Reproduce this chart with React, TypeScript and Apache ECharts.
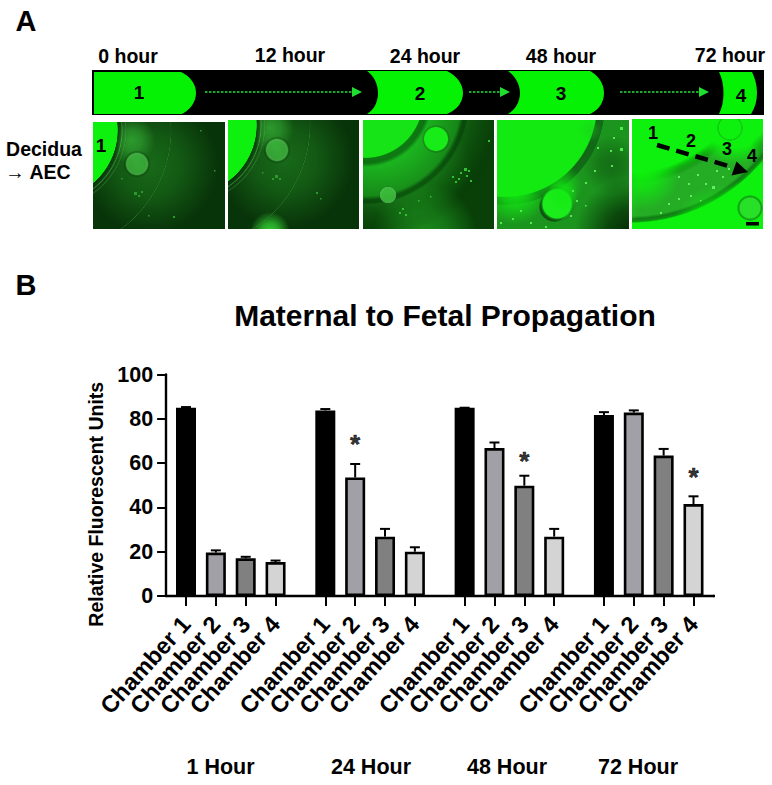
import React, { useEffect, useRef } from "react";
import * as echarts from "echarts";

// ---------- data ----------
const chamberLabels = ["Chamber 1", "Chamber 2", "Chamber 3", "Chamber 4"];
const hourLabels = ["1 Hour", "24 Hour", "48 Hour", "72 Hour"];
const hour1Means = [85, 19.6, 17, 15.3];
const hour24Means = [83.8, 53.5, 26.8, 20];
const hour48Means = [85, 66.8, 49.8, 26.8];
const hour72Means = [81.7, 82.8, 63.4, 41.5];
const hour1ErrorTops = [85.3, 20.6, 17.7, 16];
const hour24ErrorTops = [84.4, 59.6, 30.3, 22];
const hour48ErrorTops = [85, 69.3, 54.3, 30.3];
const hour72ErrorTops = [83, 83.8, 66.4, 45];
const groupMeans = [hour1Means, hour24Means, hour48Means, hour72Means];
const groupErrorTops = [hour1ErrorTops, hour24ErrorTops, hour48ErrorTops, hour72ErrorTops];
// significant bars: [group, chamber, height of the star]
const significance = [[1, 1, 68.5], [2, 2, 61], [3, 3, 53.5]];
const yTicks = { min: 0, max: 100, interval: 20 };
const timeLabels = ["0 hour", "12 hour", "24 hour", "48 hour", "72 hour"];

// ---------- slots of the category axis (bars are 6 slots apart, groups 10) ----------
const BAR_SLOTS = 6;
const GROUP_GAP = 10;
const LEAD = 4;
const TOTAL = 111;
const slotOf = (g: number, c: number) =>
  LEAD + g * (3 * BAR_SLOTS + GROUP_GAP) + c * BAR_SLOTS;
const slotNames: string[] = new Array(TOTAL).fill("");
groupMeans.forEach((vals, g) =>
  vals.forEach((_, c) => {
    slotNames[slotOf(g, c)] = chamberLabels[c];
  })
);

const FONT = '"Liberation Sans", Arial, sans-serif';
const fills = ["#000000", "#a0a0a6", "#808080", "#d4d4d4"];
const GREEN = "#0ef00e";

// ---------- panel A helpers ----------
const zone = (id: string, d: string) =>
  echarts.graphic.registerShape(id, echarts.graphic.extendPath(d, {}));
zone("zone1", "M94 72 L181 72 C190 76 196 84 196 93 C196 102 190 110 182 114 L94 114 Z");
zone("zone2", "M367 71 C374 76 378 84 378 93 C378 102 374 110 367 114 L447 114 C457 110 463 102 463 93 C463 84 457 76 447 71 Z");
zone("zone3", "M508 71 C515 76 520 84 520 93 C520 102 515 110 508 114 L590 114 C599 110 604 102 604 93 C604 84 599 76 590 71 Z");
zone("zone4", "M719 72 C722 78 723.5 85 723.5 93 C723.5 101 722 108 719 114 L751 114 C755 108 757 101 757 93 C757 85 755 78 752 72 Z");

type Stop = [number, string];
type Layer = { c: [number, number]; stops: Stop[] };
const rectEl = (x: number, y: number, w: number, h: number, fill: any) => ({
  type: "rect",
  silent: true,
  shape: { x, y, width: w, height: h },
  style: { fill },
});
const radial = (l: Layer) => {
  const rMax = l.stops[l.stops.length - 1][0];
  return new echarts.graphic.RadialGradient(
    l.c[0],
    l.c[1],
    rMax,
    l.stops.map(([r, color]) => ({ offset: r / rMax, color })),
    true
  );
};
const photo = (
  x: number,
  y: number,
  w: number,
  h: number,
  base: string,
  layers: Layer[],
  spots: number[][] = [],
  spotColor = "#4fe84f"
) => [
  rectEl(x, y, w, h, base),
  ...layers.map((l) => rectEl(x, y, w, h, radial(l))),
  ...spots.map(([sx, sy, s]) => rectEl(sx, sy, s, s, spotColor)),
];
const T = "rgba(0,0,0,0)";
const glow = (cx: number, cy: number, r: number, color: string, a: number): Layer => ({
  c: [cx, cy],
  stops: [
    [0, `rgba(${color},${a})`],
    [r * 0.45, `rgba(${color},${a * 0.7})`],
    [r, `rgba(${color},0)`],
  ],
});
const earlyDisc = (cx: number, cy: number): Layer => ({
  c: [cx, cy],
  stops: [
    [69.4, GREEN],
    [70, "rgba(6,50,8,0.7)"],
    [73, "rgba(6,50,8,0.35)"],
    [74.2, "rgba(110,220,110,0.4)"],
    [75.4, "rgba(0,0,0,0.05)"],
    [78, "rgba(90,200,90,0.28)"],
    [79, T],
    [122, T],
    [123, "rgba(70,190,70,0.4)"],
    [124, T],
  ],
});
const ball = (cx: number, cy: number, r: number, a = 0.7, light = "70,200,70"): Layer => ({
  c: [cx, cy],
  stops: [
    [0, `rgba(${light},${a})`],
    [r * 0.7, `rgba(${light},${a * 0.9})`],
    [r * 0.96, "rgba(90,205,90,0.6)"],
    [r * 1.1, "rgba(5,50,5,0.3)"],
    [r * 1.25, T],
  ],
});

const photos = [
  ...photo(93, 122, 132, 107, "#083409", [
    glow(150, 165, 68, "40,160,40", 0.5),
    glow(131, 140, 24, "70,220,70", 0.5),
    earlyDisc(48, 130),
    ball(137, 164, 11),
  ], [[134, 192, 3], [138, 195, 2], [141, 191, 2], [121, 178, 1.5], [200, 130, 1.5], [173, 216, 2], [214, 170, 1.5], [148, 215, 1.5]], "#2c9a2c"),
  ...photo(228, 120, 131, 109, "#083409", [
    glow(285, 160, 68, "40,160,40", 0.5),
    glow(270, 128, 24, "70,220,70", 0.5),
    glow(270, 232, 20, "60,235,60", 0.85),
    earlyDisc(187, 125),
    ball(277, 150, 11),
  ], [[275, 175, 3], [279, 178, 2], [272, 178, 2], [316, 192, 2], [320, 198, 1.5], [262, 172, 1.5]], "#2c9a2c"),
  ...photo(363, 120, 131, 109, "#084008", [
    glow(425, 235, 52, "40,190,40", 0.6),
    glow(410, 165, 60, "30,190,30", 0.35),
    {
      c: [365, 100],
      stops: [
        [57.4, "#16e416"],
        [58.5, "rgba(12,130,18,0.8)"],
        [63, "rgba(14,130,20,0.65)"],
        [67, "rgba(30,200,35,0.8)"],
        [96, "rgba(28,165,30,0.7)"],
        [100, "rgba(10,80,12,0.7)"],
        [103, "rgba(10,80,12,0.55)"],
        [105, "rgba(35,150,35,0.3)"],
        [125, "rgba(20,100,20,0.15)"],
        [140, T],
      ],
    },
    { c: [436, 139], stops: [[11.5, "#18ec18"], [12.5, "rgba(30,130,30,0.5)"], [14, T]] },
    { c: [388, 195], stops: [[6, "rgba(60,190,60,0.9)"], [8, "rgba(100,210,100,0.6)"], [9, T]] },
  ], [[460, 172, 2], [464, 168, 3], [466, 175, 2], [458, 178, 2], [468, 170, 2], [452, 176, 2], [455, 181, 2], [470, 180, 2], [402, 208, 2], [399, 212, 2], [405, 214, 2], [430, 196, 1.5], [418, 200, 1.5], [488, 140, 2]], "#33c033"),
  ...photo(497, 120, 132, 109, "#1c951e", [
    glow(632, 235, 58, "0,20,0", 0.85),
    glow(612, 165, 30, "10,60,10", 0.45),
    {
      c: [505, 105],
      stops: [
        [91.4, "#12ea12"],
        [92.5, "rgba(14,90,20,0.8)"],
        [99, "rgba(14,90,20,0.7)"],
        [100, T],
      ],
    },
    glow(515, 190, 34, "18,234,18", 1),
    glow(560, 185, 22, "18,234,18", 0.7),
    glow(590, 130, 12, "30,200,30", 0.4),
    { c: [554, 207], stops: [[13.5, "rgba(15,75,20,0.9)"], [15, T]] },
    { c: [557, 204], stops: [[14, "#1cec1c"], [15, "rgba(20,234,20,0.4)"], [18, T]] },
    glow(562, 196, 16, "18,234,18", 0.8),
  ], [[611, 165, 2], [594, 170, 2], [610, 150, 2], [597, 147, 2], [620, 127, 3], [613, 137, 2], [620, 148, 3], [572, 190, 2], [576, 200, 2], [585, 182, 2], [520, 210, 2], [512, 218, 2], [530, 222, 2], [570, 215, 2], [585, 205, 1.5], [500, 222, 2], [545, 226, 2]], "#50ec50"),
  ...photo(632, 119, 131, 110, GREEN, [
    {
      c: [630, 50],
      stops: [
        [122, T],
        [134, "rgba(40,165,40,0.9)"],
        [166, "rgba(40,165,40,0.9)"],
        [169, "rgba(16,110,20,0.9)"],
        [171, "rgba(16,110,20,0.75)"],
        [173, T],
      ],
    },
    { c: [735, 118], stops: [[30, "#0ef00e"], [47, "rgba(14,240,14,0)"]] },
    glow(642, 172, 38, "14,240,14", 1),
    glow(612, 205, 28, "14,240,14", 0.6),
    glow(720, 235, 50, "14,240,14", 1),
    glow(745, 210, 30, "14,240,14", 1),
    { c: [750, 208], stops: [[10, "#28e028"], [11.5, "rgba(20,110,25,0.6)"], [13, T]] },
    { c: [730, 128], stops: [[11, T], [12, "rgba(20,150,25,0.35)"], [13, T]] },
    glow(768, 150, 18, "10,120,15", 0.55),
  ], [[678, 176, 2], [697, 174, 2], [705, 183, 2], [712, 186, 3], [722, 176, 2], [690, 195, 2], [678, 198, 2], [668, 203, 2], [700, 200, 1.5], [716, 170, 2], [660, 212, 2], [728, 168, 2], [688, 183, 2]], "#5ff05f"),
];

const txt = (text: string, x: number, y: number, size: number, extra: any = {}) => ({
  type: "text",
  silent: true,
  x,
  y,
  style: {
    text,
    fill: "#000",
    font: `bold ${size}px ${FONT}`,
    textAlign: "center",
    textVerticalAlign: "middle",
    ...extra,
  },
});
const stripArrow = (x1: number, x2: number) => [
  {
    type: "line",
    silent: true,
    shape: { x1, y1: 92, x2, y2: 92 },
    style: { stroke: "#25e03a", lineWidth: 1.6, lineDash: [2.5, 1.5] },
  },
  {
    type: "polygon",
    silent: true,
    shape: { points: [[x2, 87], [x2 + 10, 92], [x2, 97]] },
    style: { fill: "#1fe030" },
  },
];

const panelA = [
  txt("A", 26, 21, 29),
  txt("B", 26, 285, 29),
  txt(timeLabels[0], 128, 56, 19.5),
  txt(timeLabels[1], 290, 55, 19.5),
  txt(timeLabels[2], 425, 56, 19.5),
  txt(timeLabels[3], 561, 56, 19.5),
  txt(timeLabels[4], 730, 55, 19.5),
  rectEl(92, 70, 672, 45, "#000"),
  ...["zone1", "zone2", "zone3", "zone4"].map((type) => ({
    type,
    silent: true,
    style: { fill: "#05f205" },
  })),
  ...stripArrow(205, 352),
  ...stripArrow(469, 500),
  ...stripArrow(620, 699),
  txt("1", 139, 92, 19),
  txt("2", 420, 93, 19),
  txt("3", 561, 93, 19),
  txt("4", 741, 95, 19),
  txt("Decidua", 44, 149, 19.5),
  txt("\u2192 AEC", 38, 172, 19.5),
  ...photos,
  txt("1", 101, 145, 19),
  txt("1", 653, 133, 18),
  txt("2", 691, 141, 18),
  txt("3", 727, 149, 18),
  txt("4", 752, 156, 18),
  {
    type: "line",
    silent: true,
    shape: { x1: 657, y1: 145, x2: 732, y2: 167 },
    style: { stroke: "#000", lineWidth: 4.5, lineDash: [13, 7] },
  },
  {
    type: "polygon",
    silent: true,
    shape: { points: [[748, 172], [736.5, 161.5], [731.5, 175.5]] },
    style: { fill: "#000" },
  },
  rectEl(746, 222, 13, 3.5, "#000"),
];

const groupCaptions = [
  txt(hourLabels[0], 220.5, 767, 21.5),
  txt(hourLabels[1], 371, 767, 21.5),
  txt(hourLabels[2], 507, 767, 21.5),
  txt(hourLabels[3], 638, 767, 21.5),
];

export default function App() {
  const ref = useRef<HTMLDivElement>(null);
  useEffect(() => {
    const chart = echarts.init(ref.current!, null, { renderer: "svg" });
    // the empty first and last slots keep a blank label, so no chamber label is the axis's min or max label
    const showSlot = (i: number, v: string) => v !== "" || i === 0 || i === TOTAL - 1;
    const showTick = (i: number) => slotNames[i] !== "";
    const barData: any[] = slotNames.map(() => null);
    const errData: number[][] = [];
    groupMeans.forEach((vals, g) =>
      vals.forEach((v, c) => {
        const s = slotOf(g, c);
        barData[s] = { value: v, itemStyle: { color: fills[c] } };
        errData.push([s, v, groupErrorTops[g][c]]);
      })
    );
    chart.setOption({
      animation: false,
      backgroundColor: "#fff",
      textStyle: { fontFamily: FONT },
      title: {
        text: "Maternal to Fetal Propagation",
        left: 440,
        top: 295,
        textAlign: "center",
        textStyle: { fontFamily: FONT, fontSize: 30, fontWeight: "bold", color: "#000" },
      },
      grid: { left: 166.1, top: 374.5, width: 547.3, height: 221.5 },
      xAxis: {
        type: "category",
        data: slotNames,
        boundaryGap: false,
        axisLine: { onZero: false, lineStyle: { color: "#000", width: 2.4 } },
        axisTick: { length: 10, interval: showTick, lineStyle: { color: "#000", width: 2 } },
        axisLabel: {
          interval: showSlot,
          rotate: 48,
          margin: 24,
          fontFamily: FONT,
          fontSize: 23.5,
          fontWeight: "bold",
          color: "#000",
        },
      },
      yAxis: {
        type: "value",
        ...yTicks,
        name: "Relative Fluorescent Units",
        nameLocation: "middle",
        nameGap: 58,
        nameTextStyle: {
          fontFamily: FONT,
          fontSize: 19.5,
          fontWeight: "bold",
          color: "#000",
          padding: [0, 38, 0, 0],
        },
        splitLine: { show: false },
        axisLine: { show: true, lineStyle: { color: "#000", width: 2.4 } },
        axisTick: { show: true, length: 9, lineStyle: { color: "#000", width: 2 } },
        axisLabel: {
          margin: 13,
          fontFamily: FONT,
          fontSize: 21.5,
          fontWeight: "bold",
          color: "#000",
        },
      },
      series: [
        {
          type: "bar",
          data: barData,
          barWidth: 20,
          itemStyle: { borderColor: "#000", borderWidth: 2.6 },
          z: 2,
        },
        {
          type: "custom",
          data: errData,
          encode: { x: 0, y: 2 },
          z: 3,
          renderItem: (_: any, api: any) => {
            const base = api.coord([api.value(0), api.value(1)]);
            const top = api.coord([api.value(0), api.value(2)]);
            const style = { stroke: "#000", lineWidth: 2, fill: "none" };
            return {
              type: "group",
              children: [
                { type: "line", shape: { x1: base[0], y1: base[1], x2: top[0], y2: top[1] }, style },
                { type: "line", shape: { x1: top[0] - 5, y1: top[1], x2: top[0] + 5, y2: top[1] }, style },
              ],
            };
          },
        },
        {
          type: "scatter",
          symbolSize: 0,
          data: significance.map(([g, c, h]) => [slotOf(g, c), h]),
          label: {
            show: true,
            formatter: "*",
            position: "inside",
            fontFamily: FONT,
            fontSize: 26,
            fontWeight: "bold",
            color: "#000",
            textBorderColor: "#000",
            textBorderWidth: 0.6,
          },
          z: 4,
        },
      ],
      graphic: {
        elements: [
          ...panelA,
          ...groupCaptions,
          { type: "line", silent: true, shape: { x1: 713, y1: 596, x2: 715, y2: 596 }, style: { stroke: "#000", lineWidth: 2.4 } },
        ],
      },
    });
    return () => chart.dispose();
  }, []);
  return (
    <div
      ref={ref}
      style={{ position: "fixed", left: 0, top: 0, width: 772, height: 785, background: "#fff" }}
    />
  );
}
